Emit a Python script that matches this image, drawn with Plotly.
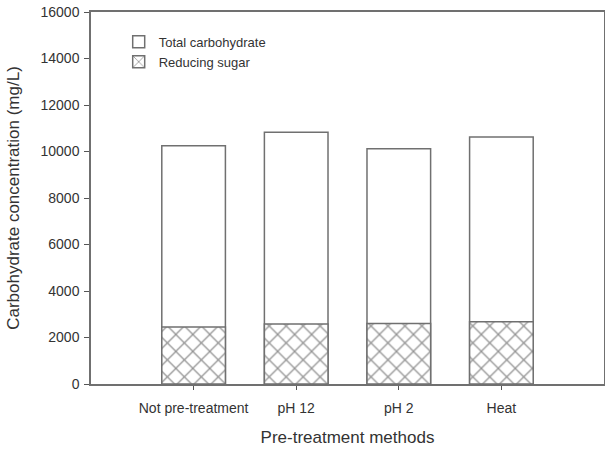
import plotly.graph_objects as go

categories = ["Not pre-treatment", "pH 12", "pH 2", "Heat"]
total_carbohydrate = [10250, 10830, 10120, 10620]
reducing_sugar = [2450, 2580, 2600, 2680]
y_ticks = [0, 2000, 4000, 6000, 8000, 10000, 12000, 14000, 16000]
y_tick_labels = ["0", "2000", "4000", "6000", "8000", "10000", "12000", "14000", "16000"]

xpos = list(range(1, len(categories) + 1))

fig = go.Figure()
fig.add_trace(go.Bar(
    x=xpos, y=total_carbohydrate, name="Total carbohydrate", width=0.62,
    marker=dict(color="white", line=dict(color="#707070", width=1.5)),
))
fig.add_trace(go.Bar(
    x=xpos, y=reducing_sugar, name="Reducing sugar", width=0.62,
    marker=dict(color="white", line=dict(color="#707070", width=1.5),
                pattern=dict(shape="x", size=12, solidity=0.2, fgcolor="#2a2a2a", bgcolor="white")),
))

font_family = "Liberation Sans, Arial, sans-serif"
fig.update_layout(
    width=605, height=450,
    barmode="overlay",
    paper_bgcolor="white", plot_bgcolor="white",
    margin=dict(l=91, r=1, t=12, b=66, autoexpand=False),
    font=dict(family=font_family, size=13, color="#333"),
    legend=dict(x=0.054, y=0.96, xanchor="left", yanchor="top",
                bgcolor="rgba(0,0,0,0)", font=dict(size=13, color="#333"),
                tracegroupgap=0, itemwidth=30),
    showlegend=True,
)
fig.update_xaxes(
    range=[0, 5], tickmode="array", tickvals=xpos, ticktext=categories,
    ticks="outside", ticklen=4, tickcolor="#555", ticklabelstandoff=6,
    showline=True, linecolor="#707070", linewidth=1.5, mirror=True,
    showgrid=False, zeroline=False, automargin=False,
    title=dict(text="Pre-treatment methods", font=dict(size=17, color="#333"), standoff=17),
    tickfont=dict(size=14, color="#333"),
)
fig.update_yaxes(
    range=[0, 16000], tickmode="array", tickvals=y_ticks, ticktext=y_tick_labels,
    ticks="outside", ticklen=5, tickcolor="#555", ticklabelstandoff=2,
    showline=True, linecolor="#707070", linewidth=1.5, mirror=True,
    showgrid=False, zeroline=False, automargin=False,
    title=dict(text="Carbohydrate concentration (mg/L)", font=dict(size=17, color="#333"), standoff=17),
    tickfont=dict(size=14, color="#333"),
)

fig.write_html("out.html", config={"displayModeBar": False},
               post_script="document.body.style.margin='0';")
